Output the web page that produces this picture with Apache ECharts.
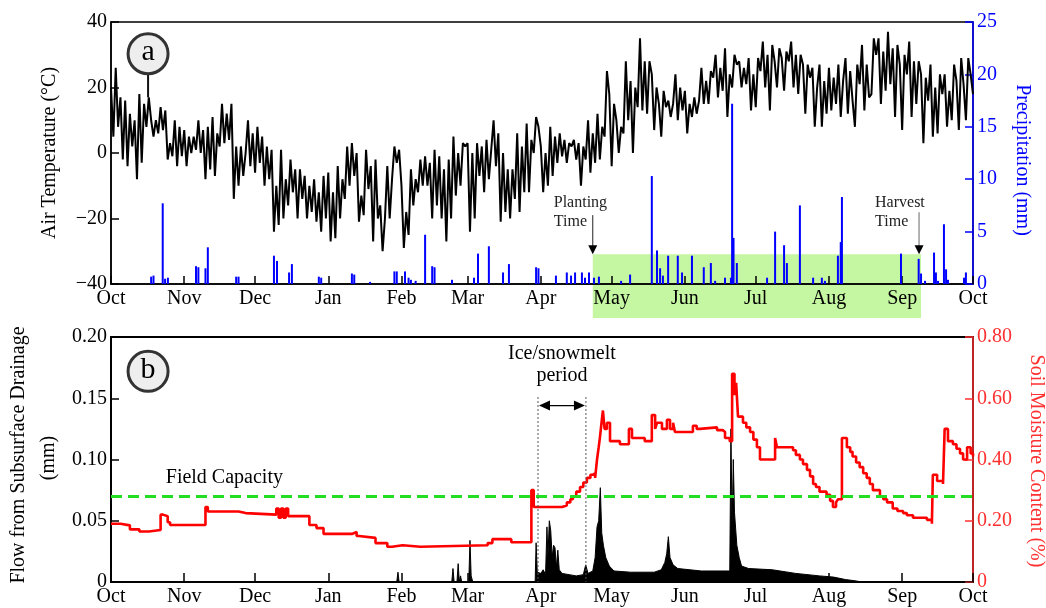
<!DOCTYPE html>
<html><head><meta charset="utf-8">
<script src="https://cdn.jsdelivr.net/npm/echarts@6/dist/echarts.min.js"></script>
<style>html,body{margin:0;padding:0;background:#fff}#c{width:1046px;height:608px}</style>
</head><body><div id="c"></div>
<script>
// ---------- DATA ----------
const monthLabels = ['Oct','Nov','Dec','Jan','Feb','Mar','Apr','May','Jun','Jul','Aug','Sep','Oct'];
const monthDays = [31,30,31,31,28,31,30,31,30,31,31,30];

// daily air temperature (°C), Oct 1 .. Oct 1 (366 values)
const airTemp = [
 20,5,26, 8,17,-2, 16,-4,12, 2,10,-8, 18,-3,15, 8,17,10, 5,10,6, 14,7,13, -2,3,-1, 10,-4,8,-1,
 7,-4,5, 0,5,1, 10,0,7, -8,8,-5, 11,-7,6, 2,15,3, 12,4,15, -14,2,-10, 2,-7,0, 10,-4,6,
 -6,8,-3,5, -10,2,-8, 1,-24,-10,-22, 1,-20,-8, -16,-2,-12,-5, -20,-5,-14, -7,-20,-10,-18, -8,-21,-12, -24,-7,-20,
 -6,-27,-12,-26, -4,-20,-8, -14,2,-10, 3,-7,0, -21,-13,-19, 1,-11,-4, -27,-2,-20, -16,-30,-20, -4,-20,-8, 2,-3,1,
 -10,-29,-18,-25, -5,-16,-8, -12,-2,-10, -1,-10,-3, -20,1,-16, -1,-20,-5, -27,-2,-20, 5,-13,0, -10,3,2,
 3,-24,0,-20, 3,-7,2, -12,4,-8,1, 10,-4,6, -21,0,-18,-5, -20,-5,-14, 6,-18,2,-12, 9,-12,4, 0,11,8,
 2,-12,0,-10, 8,-7,5, -3,6,-1,4, -3,3,2, 4,-2,3, -10,2,-2, 10,-6,6,-3, 12,-2,8, 5,25,18,
 -4,15,10, 0,8,6, 28,10,22, 0,20,14, 35,13,28, 12,28,24, 7,20,15, 5,19,14, 16,11,15, 24,10,20,13,
 19,6,15, 11,17,12,16, 26,15,22, 15,25,23, 30,17,26,19, 32,11,24, 20,30,27, 28,20,26,21, 29,13,24,
 14,29,25, 34,20,30, 13,33,28, 20,32,29, 19,31,28, 34,20,30, 18,30,27, 12,27,23, 26,8,20, 27,8,22,12,
 26,13,23,15, 27,11,22, 29,12,25,16, 8,27,21, 33,13,27,17, 18,35,30, 35,15,31,19, 37,21,32, 11,33,27,
 7,30,24, 34,11,28, 15,28,24, 3,23,16, 27,5,20, 6,24,18, 24,8,19, 10,27,22, 7,29,21, 10,29,24,
 18
];

// precipitation (mm): [day since Oct 1, mm]
const precip = [[17,0.7],[18,0.8],[21.9,7.7],[22.9,0.5],[24.1,0.6],[36,1.7],[37,1.6],[40,1.5],[41,3.5],[53,0.7],[54,0.7],
 [69,2.7],[70.3,2.2],[75.4,1.1],[76.6,1.9],[88,0.7],[89,0.6],[102,1.0],[103,0.9],[109.7,0.2],[120,1.2],[121,1.2],
 [124.5,1.2],[126,0.6],[127,0.4],[129,0.3],[133,4.7],[136,1.7],[137,1.6],[144.4,0.4],[153.7,0.6],[155.4,2.9],[160,3.6],
 [166,1.1],[168.5,1.9],[180,1.6],[181,1.5],[188.4,0.8],[193,1.1],[194.8,0.8],[196.5,1.1],[199.4,1.1],[200.7,0.6],
 [202.4,1.1],[204.5,0.6],[206.6,0.7],[216,0.3],[219.8,0.9],[229,10.3],[231.2,3.2],[232.5,1.5],[233.7,0.8],[235.9,2.7],
 [240,2.7],[241.8,1.1],[246,2.7],[251,1.6],[254,2.0],[255.8,0.3],[260,0.6],[262.5,0.6],[263,17.2],[263.6,4.4],[265,2.0],
 [277.8,0.6],[281.2,5.0],[285,3.7],[286.2,2.0],[291.7,7.5],[297.3,0.6],[301,0.6],[302.3,0.3],[307.8,2.7],[309,4.0],
 [309.5,8.3],[334.5,2.9],[342,2.4],[343,1.0],[344.7,0.3],[348.5,3.0],[349.3,1.1],[350.2,0.3],[352.7,5.7],[353.6,1.4],
 [354.4,0.4],[361.2,0.6],[362,1.1]];

// flow from subsurface drainage (mm): [day, mm]
const drainage = [[0,0],[121,0],[121.5,0.008],[122,0],
 [144.3,0],[144.8,0.011],[145.3,0],[146.5,0],[147,0.015],[147.5,0],[148,0.005],[148.5,0],[151.5,0],[152,0.034],[152.5,0.005],[153.2,0],
 [179.6,0],[180,0.032],[180.5,0.008],[182,0.007],[183,0.01],[184,0.006],[184.6,0.045],[185,0.02],[185.6,0.05],[186.2,0.042],
 [186.8,0.02],[187.4,0.03],[188,0.028],[188.6,0.012],[189.2,0.026],[189.8,0.01],[191,0.007],[194,0.006],[197,0.005],[200,0.006],
 [201,0.014],[202,0.007],[204,0.009],[205,0.02],[205.8,0.045],[206.5,0.05],[207.2,0.077],[207.8,0.04],[208.5,0.03],[209.5,0.02],
 [211,0.013],[213,0.009],[220,0.008],[230,0.008],[233,0.01],[234.5,0.016],[235.3,0.023],[236,0.037],[236.7,0.02],[238,0.014],
 [240,0.011],[250,0.009],[262,0.009],[262.5,0.125],[263,0.045],[263.5,0.1],[264,0.057],[265,0.03],[266,0.02],[267,0.013],
 [270,0.011],[280,0.01],[290,0.007],[300,0.005],[306,0.004],[311,0.002],[315,0.001],[318,0],[365,0]];

// soil moisture content: [day, fraction]
const soilMoisture = [[0,0.19],[4,0.185],[8,0.172],[12,0.165],[16,0.17],[21,0.22],[22,0.215],[24,0.195],[25,0.186],[40,0.245],
 [41,0.23],[54,0.225],[57,0.22],[70,0.24],[71,0.21],[72,0.24],[73,0.21],[74,0.24],[75,0.215],[84,0.186],[87,0.176],[90,0.157],
 [102,0.163],[104,0.15],[105,0.144],[112,0.127],[117,0.115],[119,0.12],[123.5,0.115],[131,0.12],[159.5,0.127],[161.5,0.14],
 [169.5,0.13],[178,0.3],[179,0.245],[189,0.245],[191,0.25],[193,0.26],[194.5,0.27],[195.6,0.28],[197,0.295],[198.6,0.31],
 [200,0.325],[201.5,0.34],[203,0.35],[204,0.355],[205,0.34],[205.8,0.40],[206.5,0.44],[207,0.47],[207.7,0.52],[208.3,0.56],
 [209,0.50],[210,0.52],[211.3,0.46],[215.5,0.45],[219.3,0.50],[220.6,0.47],[226,0.46],[229,0.545],[230.4,0.50],[231.2,0.52],
 [233.3,0.50],[235.4,0.53],[236.7,0.50],[238,0.52],[238.8,0.49],[246.4,0.51],[248,0.50],[249.4,0.505],[256.6,0.496],[259,0.49],
 [260,0.47],[262,0.46],[263,0.68],[264,0.61],[264.7,0.65],[265.5,0.54],[267.6,0.52],[269,0.505],[270.6,0.49],[272,0.465],
 [273.5,0.44],[274.8,0.40],[281.2,0.47],[282,0.44],[288.8,0.43],[290,0.415],[291.7,0.40],[293,0.385],[294.7,0.366],[296,0.345],
 [297.3,0.32],[298.5,0.31],[300,0.295],[303,0.285],[304.5,0.265],[305.7,0.245],[307,0.26],[307.8,0.27],[309.5,0.47],[311.6,0.44],
 [313,0.425],[314,0.41],[315.5,0.39],[317,0.375],[318.5,0.355],[320,0.34],[321.3,0.32],[322.6,0.30],[325.6,0.28],[327,0.27],
 [328.6,0.26],[331,0.24],[333,0.232],[335.4,0.225],[337,0.218],[339.6,0.21],[345.5,0.203],[347.6,0.19],[348,0.35],[349.8,0.33],
 [352.3,0.32],[353,0.50],[354.4,0.46],[356.5,0.45],[358,0.435],[359.5,0.42],[360.8,0.40],[362.5,0.44],[364,0.42],[365,0.41]];

const fieldCapacity = 0.28;
const plantingDay = 204, harvestDay = 343;
const iceStart = 180.8, iceEnd = 201.1;

// ---------- CHART ----------
const FONT = '"Liberation Serif", "Times New Roman", serif';
const monthStarts = [0];
monthDays.forEach(d => monthStarts.push(monthStarts[monthStarts.length-1] + d));
const fmt2 = v => v === 0 ? '0' : v.toFixed(2);
const chart = echarts.init(document.getElementById('c'), null, {renderer:'canvas'});

function xAx(gi){
  return {type:'value', gridIndex:gi, min:0, max:365,
    axisLine:{show:true, onZero:false, lineStyle:{color:'#000', width:1.5}},
    axisTick:{show:true, inside:true, length:gi===0?8:9, customValues:monthStarts, lineStyle:{color:'#000', width:1.5}},
    axisLabel:{show:true, customValues:monthStarts, formatter:v => monthLabels[monthStarts.indexOf(v)],
      fontFamily:FONT, fontSize:20, color:'#000', margin:5},
    splitLine:{show:false}};
}
function yAx(gi, pos, min, max, interval, color, formatter){
  return {type:'value', gridIndex:gi, position:pos, min, max, interval,
    axisLine:{show:true, lineStyle:{color, width:1.5}},
    axisTick:{show:true, inside:true, length:8, lineStyle:{color, width:1.5}},
    axisLabel:{formatter, fontFamily:FONT, fontSize:20, color, margin:4},
    splitLine:{show:false}};
}

chart.setOption({
  animation:false,
  grid:[
    {left:111, right:73, top:22, height:262, show:true, borderColor:'#000', borderWidth:1.5},
    {left:111, right:73, top:337, height:245, show:true, borderColor:'#000', borderWidth:2}
  ],
  xAxis:[xAx(0), xAx(1)],
  yAxis:[
    yAx(0,'left',-40,40,20,'#000', v => v < 0 ? '\u2212' + Math.abs(v) : String(v)),
    yAx(0,'right',0,25,5,'#0000ff', v => String(v)),
    yAx(1,'left',0,0.2,0.05,'#000', fmt2),
    yAx(1,'right',0,0.8,0.2,'#ff3030', fmt2)
  ],
  series:[
    {type:'bar', xAxisIndex:0, yAxisIndex:1, data:precip, barWidth:2, itemStyle:{color:'#0000ff'}, z:3},
    {type:'line', xAxisIndex:0, yAxisIndex:0, data:airTemp.map((v,i)=>[i,v]), showSymbol:false, symbol:'none',
      lineStyle:{color:'#000', width:2}, z:4},
    {type:'line', xAxisIndex:1, yAxisIndex:2, data:drainage, showSymbol:false, symbol:'none',
      lineStyle:{color:'#000', width:1}, areaStyle:{color:'#000', opacity:1}, z:3},
    {type:'line', xAxisIndex:1, yAxisIndex:3, data:soilMoisture, step:'end', showSymbol:false, symbol:'none',
      lineStyle:{color:'#ff0000', width:2.6}, z:4,
      markLine:{silent:true, symbol:'none', label:{show:false},
        lineStyle:{color:'#22dd22', type:[11,6], width:3}, data:[{yAxis:fieldCapacity}]}}
  ]
});

// ---------- ANNOTATIONS ----------
const pT = (x,y) => chart.convertToPixel({seriesIndex:1}, [x,y]);   // top: temperature
const pP = (x,y) => chart.convertToPixel({seriesIndex:0}, [x,y]);   // top: precipitation
const pF = (x,y) => chart.convertToPixel({seriesIndex:2}, [x,y]);   // bottom: flow
const txt = (text, x, y, opt={}) => ({type:'text', x, y, rotation:opt.rot||0, z:opt.z||10,
  style:{text, font:(opt.size||20)+'px '+FONT, fill:opt.color||'#000', align:opt.align||'center', verticalAlign:'middle'}});
const g = [];

// growing season band
const bandTop = pP(plantingDay, 2.85)[1];
const bandL = pP(plantingDay, 0)[0], bandR = pP(harvestDay, 0)[0];
const axisBottom = pT(0, -40)[1];
g.push({type:'rect', z:-1, shape:{x:bandL, y:bandTop, width:bandR-bandL, height:axisBottom + 34 - bandTop}, style:{fill:'#c5f7a2'}});

// planting arrow
g.push({type:'line', z:10, shape:{x1:bandL, y1:bandTop-39, x2:bandL, y2:bandTop-7}, style:{stroke:'#222', lineWidth:1}});
g.push({type:'polygon', z:10, shape:{points:[[bandL-4.5,bandTop-9],[bandL+4.5,bandTop-9],[bandL,bandTop]]}, style:{fill:'#000'}});
g.push(txt('Planting', bandL-39, bandTop-51, {size:16, align:'left', color:'#222'}));
g.push(txt('Time', bandL-39, bandTop-32, {size:16, align:'left', color:'#222'}));
// harvest arrow
const hx = bandR - 2;
g.push({type:'line', z:10, shape:{x1:hx, y1:bandTop-42, x2:hx, y2:bandTop-7}, style:{stroke:'#999', lineWidth:1.5}});
g.push({type:'polygon', z:10, shape:{points:[[hx-4.5,bandTop-9],[hx+4.5,bandTop-9],[hx,bandTop]]}, style:{fill:'#000'}});
g.push(txt('Harvest', hx-44, bandTop-51, {size:16, align:'left', color:'#222'}));
g.push(txt('Time', hx-44, bandTop-32, {size:16, align:'left', color:'#222'}));

// panel labels
const ca = pT(15.7, 30.3);
const caEnd = pT(15.7, 17);
g.push({type:'line', z:10, shape:{x1:ca[0], y1:ca[1]+20, x2:ca[0], y2:caEnd[1]}, style:{stroke:'#111', lineWidth:2}});
g.push({type:'circle', z:11, shape:{cx:ca[0], cy:ca[1], r:20}, style:{fill:'#eeeeee', stroke:'#333', lineWidth:3}});
g.push(txt('a', ca[0], ca[1]-2, {size:30, z:12}));
const cb = pF(15.7, 0.172);
g.push({type:'circle', z:11, shape:{cx:cb[0], cy:cb[1], r:20}, style:{fill:'#eeeeee', stroke:'#333', lineWidth:3}});
g.push(txt('b', cb[0], cb[1]-1, {size:30, z:12}));

// field capacity label
const fc = pF(48, 0.085);
g.push(txt('Field Capacity', fc[0], fc[1]));

// ice/snowmelt period
const i1 = pF(iceStart, 0.151), i2 = pF(iceEnd, 0.151), i0 = pF(iceStart, 0)[1];
g.push({type:'line', z:10, shape:{x1:i1[0], y1:i1[1], x2:i1[0], y2:i0}, style:{stroke:'#555', lineWidth:1, lineDash:[2,2]}});
g.push({type:'line', z:10, shape:{x1:i2[0], y1:i2[1], x2:i2[0], y2:i0}, style:{stroke:'#555', lineWidth:1, lineDash:[2,2]}});
const ay = pF(iceStart, 0.144)[1];
g.push({type:'line', z:10, shape:{x1:i1[0]+8, y1:ay, x2:i2[0]-8, y2:ay}, style:{stroke:'#000', lineWidth:1.2}});
g.push({type:'polygon', z:10, shape:{points:[[i1[0]+1,ay],[i1[0]+12,ay-5],[i1[0]+12,ay+5]]}, style:{fill:'#000'}});
g.push({type:'polygon', z:10, shape:{points:[[i2[0]-1,ay],[i2[0]-12,ay-5],[i2[0]-12,ay+5]]}, style:{fill:'#000'}});
const im = (i1[0]+i2[0])/2;
g.push(txt('Ice/snowmelt', im, pF(iceStart, 0.186)[1]));
g.push(txt('period', im, pF(iceStart, 0.168)[1]));

// axis titles
g.push(txt('Air Temperature (\u00B0C)', 50, 153, {rot:Math.PI/2}));
g.push(txt('Precipitation (mm)', 1022, 160, {rot:-Math.PI/2, color:'#0000ff'}));
g.push(txt('Flow from Subsurface Drainage', 19, 455, {rot:Math.PI/2}));
g.push(txt('(mm)', 49, 458, {rot:Math.PI/2}));
g.push(txt('Soil Moisture Content (%)', 1036, 461, {rot:-Math.PI/2, color:'#ff3030'}));

chart.setOption({graphic:g});
</script>
</body></html>
